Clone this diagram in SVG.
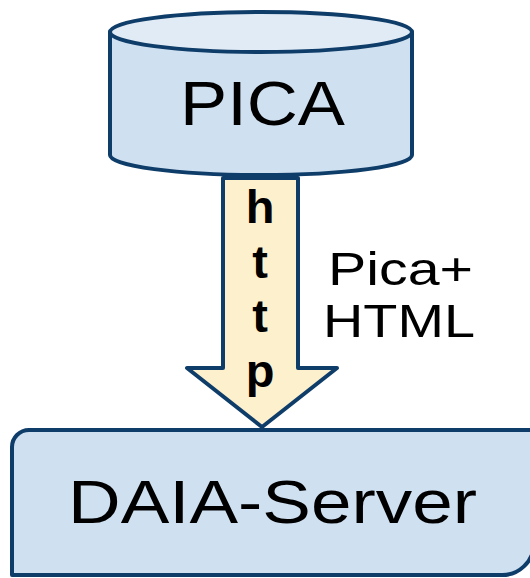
<svg xmlns="http://www.w3.org/2000/svg" width="530" height="578" viewBox="0 0 530 578">
<style>
.shape{stroke:#0f3d69;stroke-width:4;stroke-linejoin:round}
.t{font-family:"Liberation Sans",Arial,sans-serif;fill:#000}
</style>
<rect width="530" height="578" fill="#fff"/>
<g id="pica">
<path class="shape" d="M110,32 L110,155 A151,20 0 0 0 412,155 L412,32 Z" fill="#cfe0f1"/>
<ellipse class="shape" cx="261" cy="32" rx="151" ry="20" fill="#e1ebf6"/>
<text class="t" x="180" y="125" font-size="63" textLength="165" lengthAdjust="spacingAndGlyphs">PICA</text>
</g>
<g id="daia-server">
<path class="shape" d="M12,447 A17,17 0 0 1 29,430 H534 V543 A32,32 0 0 1 500,575 H12 Z" fill="#cfe0f1"/>
<text class="t" x="68" y="523" font-size="61" textLength="409" lengthAdjust="spacingAndGlyphs">DAIA-Server</text>
</g>
<g id="connectors">
<polygon class="shape" points="223,178 298,178 298,368 337,368 262,427 187,368 223,368" fill="#fdf0cd"/>
<g class="t" font-size="47" font-weight="bold" text-anchor="middle">
<text x="260" y="223">h</text>
<text x="260" y="278">t</text>
<text x="260" y="332">t</text>
<text x="260" y="387">p</text>
</g>
<text class="t" x="328" y="285" font-size="46" textLength="145" lengthAdjust="spacingAndGlyphs">Pica+</text>
<text class="t" x="323" y="337" font-size="47" textLength="152" lengthAdjust="spacingAndGlyphs">HTML</text>
</g>
</svg>
